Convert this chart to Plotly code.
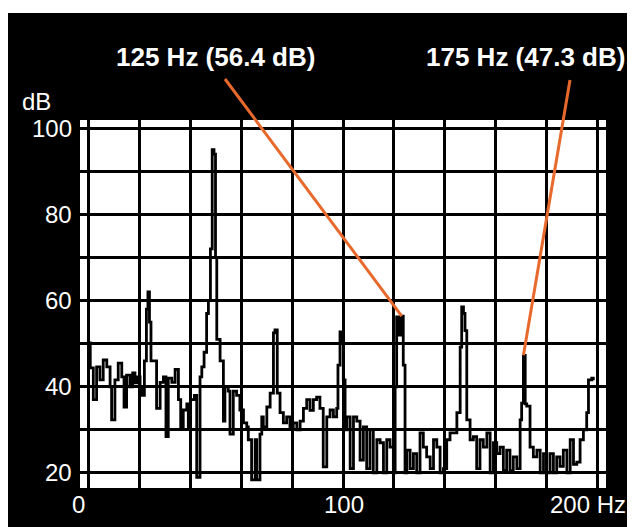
import plotly.graph_objects as go

# ---- data ----
freq_hz = [
    0.0, 0.5, 1.0, 1.7, 3.0, 4.3, 5.6, 7.0, 8.3, 8.9, 10.2, 11.5, 12.9, 13.8, 14.8,
    16.1, 17.2, 18.1, 19.0, 20.1, 21.0, 21.8, 22.6, 23.2, 23.8, 24.4, 25.3, 26.6,
    28.0, 29.3, 30.3, 31.2, 32.6, 33.9, 35.2, 36.1, 37.1, 38.5, 39.1, 40.0, 41.5,
    42.4, 43.7, 44.4, 45.3, 46.3, 47.0, 47.8, 48.5, 49.2, 49.8, 50.3, 51.6, 52.9,
    53.5, 54.8, 55.5, 56.8, 58.1, 59.4, 60.8, 62.1, 62.7, 64.0, 65.4, 66.0, 67.3,
    68.0, 68.6, 70.0, 71.3, 72.6, 73.2, 74.1, 75.2, 76.5, 77.8, 79.1, 80.4, 81.8,
    83.1, 84.4, 85.7, 87.0, 88.3, 89.6, 90.9, 92.2, 93.6, 94.9, 96.2, 97.5, 98.0,
    98.8, 99.4, 100.1, 100.8, 101.5, 102.8, 104.1, 105.4, 106.7, 108.0, 109.3,
    110.6, 111.9, 113.3, 114.6, 115.9, 117.2, 118.5, 119.8, 120.5, 121.1, 122.2,
    123.1, 123.7, 124.4, 125.1, 126.4, 127.7, 129.0, 130.3, 131.6, 132.9, 134.3,
    135.6, 136.9, 138.2, 139.5, 140.8, 142.1, 143.4, 144.8, 146.1, 146.7, 147.4,
    148.0, 148.7, 150.0, 151.3, 152.6, 153.9, 155.2, 156.6, 157.9, 159.2, 160.5,
    161.8, 163.1, 164.4, 165.7, 167.0, 168.4, 169.7, 170.3, 171.0, 171.7, 172.3,
    173.6, 174.9, 176.3, 177.6, 178.9, 180.2, 181.5, 182.8, 184.1, 185.4, 186.7,
    188.1, 189.4, 190.7, 192.0, 193.3, 194.6, 195.9, 196.6, 197.9, 198.5,
]
level_db = [
    50.2, 44.4, 44.4, 37.0, 44.6, 41.6, 46.2, 44.6, 40.0, 32.3, 41.6, 45.5, 42.3, 35.3, 42.7,
    40.0, 43.2, 40.9, 42.3, 40.0, 38.0, 46.0, 58.0, 62.0, 55.0, 46.0, 46.0, 35.0,
    41.0, 42.3, 28.4, 42.0, 41.0, 44.0, 37.0, 30.7, 34.6, 36.0, 30.7, 37.0, 38.0,
    19.0, 42.3, 44.6, 48.0, 57.0, 60.0, 72.0, 95.0, 94.0, 70.0, 51.0, 46.0, 32.0,
    40.0, 39.0, 29.0, 39.0, 38.0, 34.6, 31.6, 30.7, 27.7, 18.4, 27.7, 18.4, 29.0,
    33.0, 30.7, 35.3, 38.5, 52.5, 53.2, 38.5, 34.0, 31.6, 33.0, 30.7, 31.6, 30.0,
    32.0, 35.0, 37.0, 34.5, 37.0, 37.6, 35.0, 21.4, 33.0, 34.6, 33.0, 35.0, 45.0,
    52.7, 50.0, 41.6, 30.0, 33.0, 21.0, 33.0, 32.0, 23.0, 30.7, 21.0,
    30.0, 20.0, 27.7, 27.0, 20.0, 27.7, 26.0, 20.0, 40.0, 56.2, 52.0,
    56.4, 45.0, 20.0, 25.3, 21.0, 24.5, 20.0, 29.3, 26.0, 23.7, 21.0,
    27.7, 26.0, 20.0, 21.0, 27.7, 29.3, 29.3, 34.0, 49.2, 58.5, 57.0,
    53.0, 32.3, 27.7, 28.4, 21.0, 27.7, 26.0, 29.3, 20.0, 27.0, 24.5,
    26.0, 20.5, 25.3, 20.5, 23.7, 21.0, 32.3, 36.2, 47.3, 36.0, 35.5,
    26.0, 23.7, 25.3, 20.0, 24.5, 20.0, 24.5, 20.0, 23.7, 21.5, 25.3,
    20.0, 27.7, 22.0, 22.5, 27.7, 30.0, 34.0, 41.6, 42.0, 41.5,
]
x_tick_vals = [0, 100, 200]
x_tick_text = ["0", "100", "200 Hz"]
y_tick_vals = [20, 40, 60, 80, 100]
y_tick_text = ["20", "40", "60", "80", "100"]
callout_freq = [123.1, 171.0]
callout_db = [56.4, 47.3]
callout_text = ["125 Hz (56.4 dB)", "175 Hz (47.3 dB)"]

# ---- layout geometry ----
# The page body adds an 8px margin, so the figure is drawn 8px in from the
# top-left corner; all screen positions below are given in screen pixels.
OFF = 8
W, H = 635 - OFF, 527 - OFF
SCR_L, SCR_R, SCR_T, SCR_B = 80, 606, 120, 488     # plot area on screen
L, T = SCR_L - OFF, SCR_T - OFF
R = W - (SCR_R - OFF)
B = H - (SCR_B - OFF)
XR = [-3.54, 203.5]
YR = [16.5, 101.9]
PW, PH = W - L - R, H - T - B

def px_to_paper_x(px):
    return (px - OFF - L) / PW

def py_to_paper_y(py):
    return (H - B - (py - OFF)) / PH

def data_to_paper_x(v):
    return (v - XR[0]) / (XR[1] - XR[0])

def data_to_paper_y(v):
    return (v - YR[0]) / (YR[1] - YR[0])

FONT = "Liberation Sans, Arial, Helvetica, sans-serif"
ORANGE = "#E8692C"

fig = go.Figure()
fig.add_trace(go.Scatter(
    x=freq_hz, y=level_db, mode="lines",
    line=dict(color="black", width=2.8, shape="hv"),
    hoverinfo="skip", showlegend=False,
))

shapes = [
    # white strip of the scanned page along the top
    dict(type="rect", xref="paper", yref="paper",
         x0=px_to_paper_x(0), x1=px_to_paper_x(700),
         y0=py_to_paper_y(13), y1=py_to_paper_y(0),
         fillcolor="white", line=dict(width=0), layer="above"),
]
starts = [(225, 79), (570, 80)]
for (sx, sy), f, d in zip(starts, callout_freq, callout_db):
    shapes.append(dict(
        type="line", xref="paper", yref="paper",
        x0=px_to_paper_x(sx), y0=py_to_paper_y(sy),
        x1=data_to_paper_x(f), y1=data_to_paper_y(d),
        line=dict(color=ORANGE, width=3), layer="above",
    ))

annotations = []
label_pos = [(215, 57), (525, 57)]
for (lx, ly), t in zip(label_pos, callout_text):
    annotations.append(dict(
        text=f"<b>{t}</b>", xref="paper", yref="paper",
        x=px_to_paper_x(lx), y=py_to_paper_y(ly),
        xanchor="center", yanchor="middle", showarrow=False,
        font=dict(family=FONT, size=26, color="white"),
    ))

# x tick labels
x_label_px = [(78.5, "center"), (344, "center"), (548, "left")]
for (lx, anc), t in zip(x_label_px, x_tick_text):
    annotations.append(dict(
        text=t, xref="paper", yref="paper",
        x=px_to_paper_x(lx), y=py_to_paper_y(504),
        xanchor=anc, yanchor="middle", showarrow=False,
        font=dict(family=FONT, size=24, color="white"),
    ))
# y tick labels
for v, t in zip(y_tick_vals, y_tick_text):
    annotations.append(dict(
        text=t, xref="paper", yref="y",
        x=px_to_paper_x(74), y=v,
        xanchor="right", yanchor="middle", showarrow=False,
        font=dict(family=FONT, size=24, color="white"),
    ))
annotations.append(dict(
    text="dB", xref="paper", yref="paper",
    x=px_to_paper_x(20), y=py_to_paper_y(101),
    xanchor="left", yanchor="middle", showarrow=False,
    font=dict(family=FONT, size=24, color="white"),
))

fig.update_layout(
    width=W, height=H,
    margin=dict(l=L, r=R, t=T, b=B, pad=0),
    paper_bgcolor="black", plot_bgcolor="white",
    shapes=shapes, annotations=annotations,
    showlegend=False,
    xaxis=dict(range=XR, tick0=0, dtick=20, showgrid=True, gridcolor="black",
               gridwidth=3, zeroline=False, showticklabels=False, ticks="",
               showline=False, fixedrange=True),
    yaxis=dict(range=YR, tick0=20, dtick=10, showgrid=True, gridcolor="black",
               gridwidth=3, zeroline=False, showticklabels=False, ticks="",
               showline=False, fixedrange=True),
)

fig.write_html("out.html", config={"displayModeBar": False})
